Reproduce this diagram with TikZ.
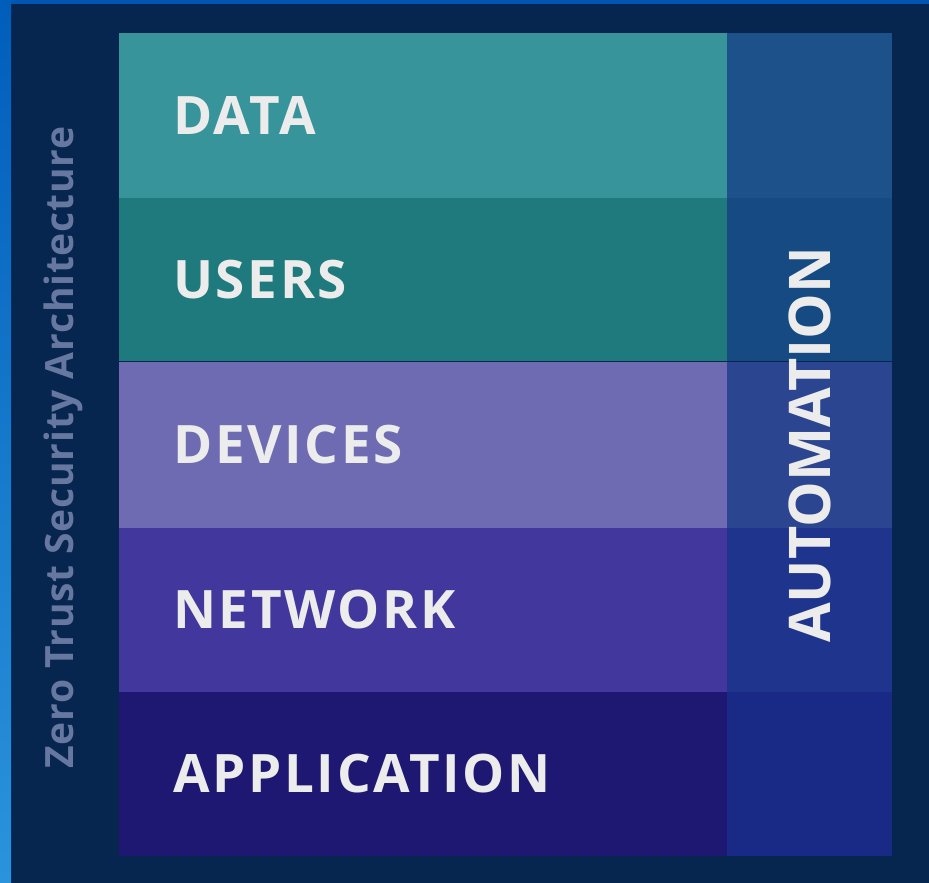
\documentclass[tikz,border=0pt]{standalone}
\usepackage{fontspec}
\usepackage{xcolor}
\usepackage{tikz}
\newfontfamily\layerfont{Open Sans}[LetterSpace=5]
\newfontfamily\titlefont{Open Sans}[LetterSpace=2]
\newfontfamily\autofont{Open Sans}
\definecolor{navy}{RGB}{6,37,79}
\definecolor{topband}{RGB}{0,87,179}
\definecolor{edgetop}{RGB}{0,94,187}
\definecolor{edgebot}{RGB}{43,147,220}
\definecolor{datac}{RGB}{55,148,154}
\definecolor{usersc}{RGB}{30,122,124}
\definecolor{devicesc}{RGB}{110,107,179}
\definecolor{networkc}{RGB}{65,55,156}
\definecolor{appc}{RGB}{31,24,115}
\definecolor{autoa}{RGB}{28,81,137}
\definecolor{autob}{RGB}{21,74,131}
\definecolor{autoc}{RGB}{44,69,145}
\definecolor{autod}{RGB}{31,52,141}
\definecolor{autoe}{RGB}{24,42,133}
\definecolor{labeltext}{RGB}{236,236,236}
\definecolor{titletext}{RGB}{102,119,160}
\tikzset{
  layer/.style={anchor=west,inner sep=0pt,text=labeltext,font=\layerfont\bfseries\fontsize{53}{53}\selectfont},
}

\begin{document}
\begin{tikzpicture}[x=1pt,y=1pt]
\useasboundingbox (0,0) rectangle (929,883);
\fill [navy] (0,0) rectangle (929,883);
\fill [topband] (0,879) rectangle (929,883);
\shade [top color=edgetop,bottom color=edgebot] (0,0) rectangle (11,883);

\fill [datac] (119,685) rectangle (727,850);
\fill [usersc] (119,521) rectangle (727,685);
\fill [devicesc] (119,355) rectangle (727,521);
\fill [networkc] (119,191) rectangle (727,355);
\fill [appc] (119,27) rectangle (727,191);

\fill [autoa] (727,685) rectangle (892,850);
\fill [autob] (727,521) rectangle (892,685);
\fill [autoc] (727,355) rectangle (892,521);
\fill [autod] (727,191) rectangle (892,355);
\fill [autoe] (727,27) rectangle (892,191);

\draw [navy,line width=1pt] (119,521) -- (892,521);

\node [layer] (data) at (173,767.5) {DATA};
\node [layer] (users) at (173,603) {USERS};
\node [layer] (devices) at (173,438) {DEVICES};
\node [layer] (network) at (173,273) {NETWORK};
\node [layer] (application) at (173,109) {APPLICATION};

\node [rotate=90,inner sep=0pt,text=labeltext,font=\autofont\bfseries\fontsize{57.5}{57.5}\selectfont] (automation) at (810,438) {AUTOMATION};
\node [rotate=90,anchor=base,inner sep=0pt,text=titletext,font=\titlefont\bfseries\fontsize{39}{39}\selectfont] (zta) at (73,435.5) {Zero Trust Security Architecture};
\end{tikzpicture}
\end{document}
